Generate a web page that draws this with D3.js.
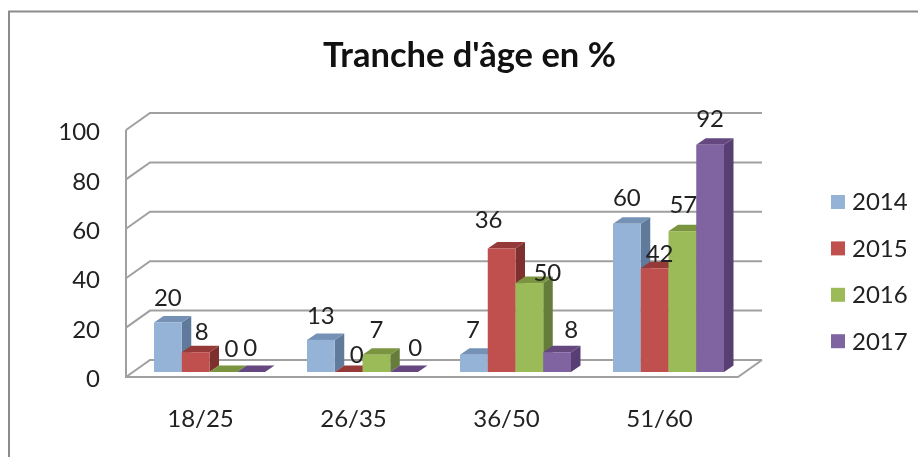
<!DOCTYPE html>
<html>
<head>
<meta charset="utf-8">
<script src="https://cdn.jsdelivr.net/npm/d3@7"></script>
<style>
    html, body { margin: 0; padding: 0; background: #fff; overflow: hidden; }
    svg { display: block; filter: blur(0.45px); }
    text { font-family: Lato, "Open Sans", sans-serif; fill: #222; }
</style>
</head>
<body>
<div id="chart"></div>
<script>
// Chart data
var categories = ["18/25", "26/35", "36/50", "51/60"];
var years = ["2014", "2015", "2016", "2017"];
var yTicks = [0, 20, 40, 60, 80, 100];

// bar heights as drawn, one list per year
var values2014 = [20, 13, 7, 60];
var values2015 = [8, 0, 50, 42];
var values2016 = [0, 7, 36, 57];
var values2017 = [0, 0, 8, 92];

// printed labels (the source has 36 and 50 swapped against the bars)
var labels2014 = [20, 13, 7, 60];
var labels2015 = [8, 0, 36, 42];
var labels2016 = [0, 7, 50, 57];
var labels2017 = [0, 0, 8, 92];

var width = 918,
    height = 457;

// front plane of the box and the 3D depth offset
var plot = {left: 126, right: 738, top: 130, bottom: 377},
    depth = {x: 24, y: -17},
    barDepth = {x: 9.5, y: -6.5},
    barLift = 5;

var fronts = ["#95B3D7", "#C0504D", "#9BBB59", "#8064A2"],
    tops = ["#7592B6", "#953A38", "#7A9440", "#64487F"],
    sides = ["#5F7A9A", "#7D302E", "#667C3A", "#573F74"];

var gridColor = "#A0A0A0";

var seriesValues = [values2014, values2015, values2016, values2017];
var seriesLabels = [labels2014, labels2015, labels2016, labels2017];

// hand nudges for the data labels, [series][category], the source placed them loosely
var nudgeX = [[0, 0, -1, 0], [6, 8, -13, 5], [8, 0, 18, 1], [-1, 11, 14, 0]];
var nudgeY = [[-25, -24, -25, -26], [-21, -17, -29, -15], [-23, -25, -10, -27], [-24, -24, -23, -26]];

var svg = d3.select("#chart").append("svg")
    .attr("width", width)
    .attr("height", height);

// Scales
var x = d3.scaleBand().domain(categories).range([plot.left, plot.right]).paddingInner(0).paddingOuter(0);
var inner = d3.scaleBand().domain(years).range([28, 28 + 4 * 27.75]);
var y = d3.scaleLinear().domain([0, 100]).range([plot.bottom, plot.top]);

// outer frame: only top and left edges are inside the crop
svg.append("path")
    .attr("d", "M9,457V11.5H918")
    .attr("fill", "none")
    .attr("stroke", "#8C8C8C")
    .attr("stroke-width", 2);

// Title
svg.append("text")
    .attr("x", 469.5)
    .attr("y", 67)
    .attr("text-anchor", "middle")
    .style("font-size", "34.5px")
    .style("font-weight", 700)
    .style("fill", "#111")
    .text("Tranche d'âge en %");

// Walls and gridlines
var walls = svg.append("g")
    .attr("fill", "none")
    .attr("stroke", gridColor)
    .attr("stroke-width", 2);

walls.selectAll("path.grid")
    .data(yTicks)
    .enter().append("path")
    .attr("class", "grid")
    .attr("d", function(d) {
        return "M" + plot.left + "," + y(d)
            + "L" + (plot.left + depth.x) + "," + (y(d) + depth.y)
            + "H" + (plot.right + depth.x);
    });

walls.append("path")
    .attr("d", "M" + plot.left + "," + plot.top + "V" + plot.bottom + "H" + plot.right
        + "L" + (plot.right + depth.x) + "," + (plot.bottom + depth.y));

// Y axis
var yAxis = svg.append("g")
    .attr("transform", "translate(" + (plot.left - 26) + ",2)")
    .call(d3.axisLeft(y).tickValues(yTicks).tickSize(0).tickPadding(0));
yAxis.select(".domain").remove();
yAxis.selectAll("text").style("font-size", "24px").style("font-family", "Lato");

// X axis
var xAxis = svg.append("g")
    .attr("transform", "translate(-2," + (plot.bottom + 33) + ")")
    .call(d3.axisBottom(x).tickSize(0).tickPadding(0));
xAxis.select(".domain").remove();
xAxis.selectAll("text").style("font-size", "24px").style("font-family", "Lato");

// Bars sit in one row, so draw left to right
var groups = svg.append("g").selectAll("g.cat")
    .data(categories)
    .enter().append("g")
    .attr("class", "cat")
    .attr("transform", function(d) { return "translate(" + x(d) + ",0)"; });

var bars = groups.selectAll("g.bar")
    .data(function(c, ci) {
        return years.map(function(yr, si) {
            return {year: yr, si: si, value: seriesValues[si][ci]};
        });
    })
    .enter().append("g")
    .attr("class", "bar");

var bw = inner.bandwidth();

// side face
bars.append("path")
    .attr("fill", function(d) { return sides[d.si]; })
    .attr("d", function(d) {
        var x1 = inner(d.year) + bw, top = y(d.value) - barLift, base = y(0) - barLift;
        return "M" + x1 + "," + top
            + "l" + barDepth.x + "," + barDepth.y
            + "V" + (base + barDepth.y)
            + "L" + x1 + "," + base + "Z";
    });

// top face
bars.append("path")
    .attr("fill", function(d) { return tops[d.si]; })
    .attr("d", function(d) {
        var x0 = inner(d.year), top = y(d.value) - barLift;
        return "M" + x0 + "," + top
            + "l" + barDepth.x + "," + barDepth.y
            + "h" + bw
            + "l" + (-barDepth.x) + "," + (-barDepth.y) + "Z";
    });

// front face
bars.append("rect")
    .attr("x", function(d) { return inner(d.year); })
    .attr("y", function(d) { return y(d.value) - barLift; })
    .attr("width", bw)
    .attr("height", function(d) { return y(0) - y(d.value); })
    .attr("fill", function(d) { return fronts[d.si]; });

// Data labels on top of everything
var labelLayer = svg.append("g");
categories.forEach(function(c, ci) {
    years.forEach(function(yr, si) {
        labelLayer.append("text")
            .attr("x", x(c) + inner(yr) + bw / 2 + nudgeX[si][ci])
            .attr("y", y(seriesValues[si][ci]) - barLift + nudgeY[si][ci])
            .attr("dy", "0.35em")
            .attr("text-anchor", "middle")
            .style("font-size", "24px")
            .text(seriesLabels[si][ci]);
    });
});

// Legend
var legend = svg.append("g").selectAll("g")
    .data(years)
    .enter().append("g")
    .attr("transform", function(d, i) { return "translate(831," + (202 + i * 46.4) + ")"; });

legend.append("rect")
    .attr("y", -7)
    .attr("width", 14)
    .attr("height", 14)
    .attr("fill", function(d, i) { return fronts[i]; });

legend.append("text")
    .attr("x", 21)
    .attr("dy", "0.35em")
    .style("font-size", "24px")
    .text(function(d) { return d; });
</script>
</body>
</html>
